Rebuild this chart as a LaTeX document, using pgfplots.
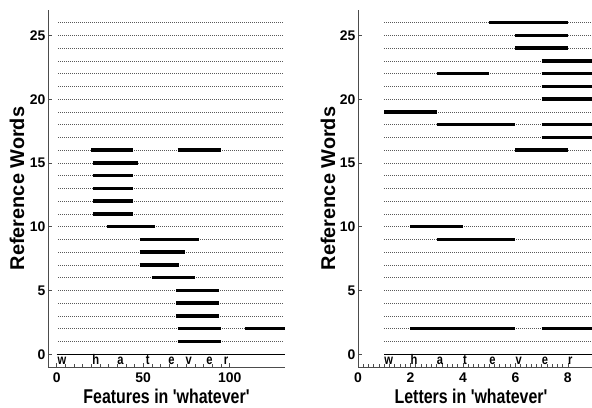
\documentclass[border=0pt]{standalone}
\usepackage{fontspec}
\setmainfont{Liberation Sans}
\newfontfamily\condfont[FakeStretch=0.8]{Liberation Sans}
\usepackage{pgfplots}
\pgfplotsset{compat=1.18}
\pgfplotsset{
  refax/.style={
    scale only axis,
    height=357bp,
    ymin=-1, ymax=27,
    ytick={0,5,10,15,20,25},
    axis lines*=left,
    axis line style={black!70, line width=0.6bp},
    tick style={black!70, line width=0.5bp},
    major tick length=3.5bp,
    minor tick length=2.5bp,
    tick align=inside,
    unbounded coords=jump,
    /pgf/number format/assume math mode=true,
    tick label style={font=\fontsize{14}{16}\selectfont\bfseries},
    xticklabel style={yshift=-2bp},
    yticklabel style={xshift=1bp},
    label style={font=\fontsize{20}{22}\selectfont\bfseries},
  },
  gridl/.style={black!65, line width=0.5bp, dash pattern=on 0.6bp off 1.4bp},
  seg/.style={black, line width=3.5bp, line cap=butt},
  lett/.style={draw=none, mark=none, nodes near coords, point meta=explicit symbolic,
    every node near coord/.style={anchor=north west, inner sep=0pt, yshift=-1bp,
      text height=9.5bp, text depth=0pt,
      font=\condfont\fontsize{14}{14}\selectfont\bfseries}},
}
\begin{document}
\begin{tikzpicture}
\path[use as bounding box] (0,0) rectangle (592bp,408bp);
% ---------- left panel ----------
\begin{axis}[refax,
  at={(48bp,41bp)}, anchor=south west,
  width=237bp,
  xmin=-5, xmax=132,
  xtick={0,50,100},
  minor x tick num=9,
  xlabel={\condfont Features in 'whatever'},
  xlabel style={at={(axis description cs:0.5,0)}, yshift=-29bp, anchor=center},
  ylabel={Reference Words},
  ylabel style={at={(axis description cs:-0.131,0.5)}, anchor=center},
]
\pgfplotsinvokeforeach{1,...,26}{\addplot[gridl] coordinates {(1,#1) (131,#1)};}
\addplot[black, line width=0.8bp] coordinates {(0,0) (132,0)};
\addplot[lett] coordinates {(0.5,0)[w] (20.6,0)[h] (35,0)[a] (51.5,0)[t] (64.4,0)[e] (74.4,0)[v] (86.5,0)[e] (96.5,0)[r]};
\addplot[seg] coordinates {
 (20,16) (44,16) (nan,nan) (70,16) (95,16) (nan,nan)
 (21,15) (47,15) (nan,nan)
 (21,14) (44,14) (nan,nan)
 (21,13) (44,13) (nan,nan)
 (21,12) (44,12) (nan,nan)
 (21,11) (44,11) (nan,nan)
 (29,10) (57,10) (nan,nan)
 (48,9) (82,9) (nan,nan)
 (48,8) (74,8) (nan,nan)
 (48,7) (71,7) (nan,nan)
 (55,6) (80,6) (nan,nan)
 (69,5) (94,5) (nan,nan)
 (69,4) (94,4) (nan,nan)
 (69,3) (94,3) (nan,nan)
 (70,2) (95,2) (nan,nan) (109,2) (132,2) (nan,nan)
 (70,1) (95,1)
};
\end{axis}
% ---------- right panel ----------
\begin{axis}[refax,
  at={(358bp,41bp)}, anchor=south west,
  width=234bp,
  xmin=0, xmax=8.92,
  xtick={0,2,4,6,8},
  minor x tick num=9,
  xlabel={\condfont Letters in 'whatever'},
  xlabel style={at={(axis description cs:0.483,0)}, yshift=-29bp, anchor=center},
  ylabel={Reference Words},
  ylabel style={at={(axis description cs:-0.128,0.5)}, anchor=center},
]
\pgfplotsinvokeforeach{1,...,26}{\addplot[gridl] coordinates {(1,#1) (9.5,#1)};}
\addplot[black, line width=0.8bp] coordinates {(1,0) (9.5,0)};
\addplot[lett] coordinates {(1,0)[w] (2,0)[h] (3,0)[a] (4,0)[t] (5,0)[e] (6,0)[v] (7,0)[e] (8,0)[r]};
\addplot[seg] coordinates {
 (5,26) (8,26) (nan,nan)
 (6,25) (8,25) (nan,nan)
 (6,24) (8,24) (nan,nan)
 (7,23) (9.5,23) (nan,nan)
 (3,22) (5,22) (nan,nan) (7,22) (9.5,22) (nan,nan)
 (7,21) (9.5,21) (nan,nan)
 (7,20) (9.5,20) (nan,nan)
 (1,19) (3,19) (nan,nan)
 (3,18) (6,18) (nan,nan) (7,18) (9.5,18) (nan,nan)
 (7,17) (9.5,17) (nan,nan)
 (6,16) (8,16) (nan,nan)
 (2,10) (4,10) (nan,nan)
 (3,9) (6,9) (nan,nan)
 (2,2) (6,2) (nan,nan) (7,2) (9.5,2)
};
\end{axis}
\end{tikzpicture}
\end{document}
